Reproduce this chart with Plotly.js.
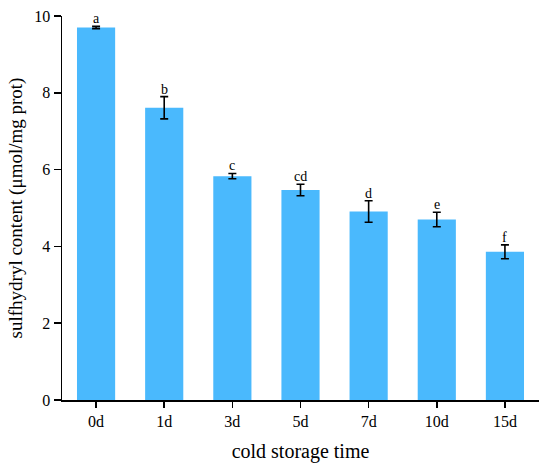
<!DOCTYPE html>
<html>
<head>
<meta charset="utf-8">
<script src="https://cdn.plot.ly/plotly-3.0.1.min.js"></script>
<style>html,body{margin:0;padding:0;background:#fff;}#chart{width:550px;height:472px;}</style>
</head>
<body>
<div id="chart"></div>
<script>
var categories = ['0d', '1d', '3d', '5d', '7d', '10d', '15d'];
var values = [9.70, 7.61, 5.83, 5.47, 4.91, 4.70, 3.86];
var errors = [0.03, 0.29, 0.07, 0.15, 0.28, 0.19, 0.18];
var letters = ['a', 'b', 'c', 'cd', 'd', 'e', 'f'];

var serif = 'Liberation Serif, Times New Roman, serif';

var bars = {
  type: 'bar',
  x: categories,
  y: values,
  width: 0.56,
  marker: {color: '#4ab9fd', line: {width: 0}},
  error_y: {type: 'data', array: errors, visible: true, color: '#000', thickness: 1.6, width: 4},
  hoverinfo: 'x+y'
};

var annotations = categories.map(function (c, i) {
  return {
    x: c, y: values[i] + errors[i], xref: 'x', yref: 'y',
    text: letters[i], showarrow: false, yanchor: 'bottom', yshift: -2,
    font: {family: serif, size: 14, color: '#000'}
  };
});

var layout = {
  width: 550, height: 472,
  margin: {l: 62, r: 11, t: 16, b: 72},
  paper_bgcolor: '#fff', plot_bgcolor: '#fff',
  showlegend: false,
  bargap: 0.44,
  xaxis: {
    type: 'category',
    range: [-0.5, 6.5],
    showline: true, linecolor: '#000', linewidth: 1.5,
    ticks: 'outside', ticklen: 6, tickwidth: 1.5, tickcolor: '#000',
    showgrid: false, zeroline: false,
    tickfont: {family: serif, size: 16, color: '#000'},
    title: {text: 'cold storage time', font: {family: serif, size: 20, color: '#000'}, standoff: 15}
  },
  yaxis: {
    range: [0, 10],
    dtick: 2,
    showline: true, linecolor: '#000', linewidth: 1.5,
    ticks: 'outside', ticklen: 7, tickwidth: 1.5, tickcolor: '#000',
    showgrid: false, zeroline: false,
    tickfont: {family: serif, size: 16, color: '#000'},
    title: {text: 'sulfhydryl content (μmol/mg prot)', font: {family: serif, size: 19, color: '#000'}, standoff: 6}
  },
  annotations: annotations
};

Plotly.newPlot('chart', [bars], layout, {displayModeBar: false, staticPlot: true});
</script>
</body>
</html>
